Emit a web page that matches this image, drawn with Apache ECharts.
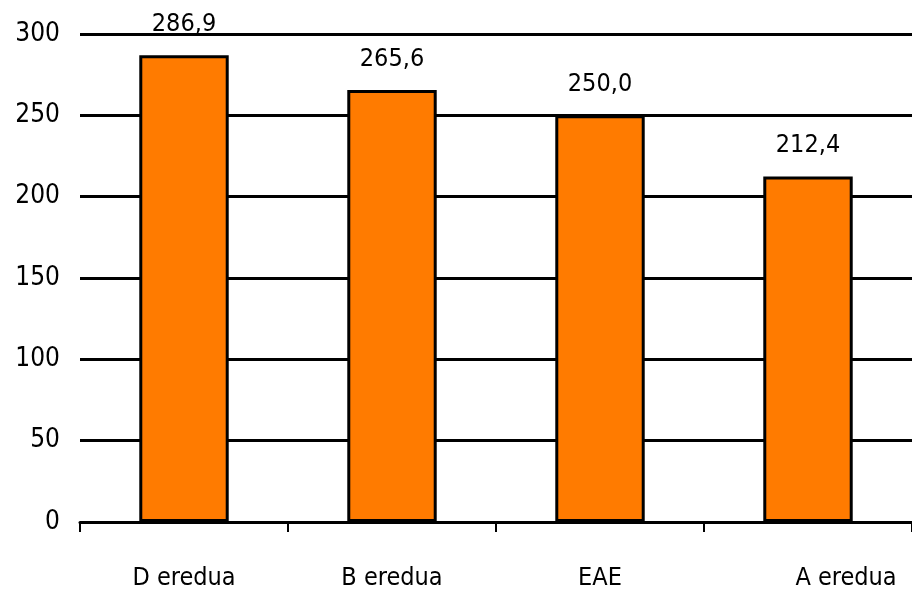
<!DOCTYPE html>
<html>
<head>
<meta charset="utf-8">
<script src="https://cdn.jsdelivr.net/npm/echarts@6/dist/echarts.min.js"></script>
<style>
html, body { margin: 0; padding: 0; background: #fff; }
#chart { width: 912px; height: 595px; }
</style>
</head>
<body>
<div id="chart"></div>
<script>
var categories = ['D eredua', 'B eredua', 'EAE', 'A eredua'];
var values = [286.9, 265.6, 250.0, 212.4];
var yTicks = [0, 50, 100, 150, 200, 250, 300];

var fontFam = '"Liberation Sans Narrow", "DejaVu Sans Condensed", Arial, sans-serif';

var chart = echarts.init(document.getElementById('chart'));

var option = {
	backgroundColor: '#fff',
	animation: false,
	grid: {
		left: 80,
		right: 0,
		top: 34,
		bottom: 73
	},
	xAxis: {
		type: 'category',
		data: categories.map(function (c, i) {
			// last label sits a bit right of its bar in the original
			if (i === 3) return { value: c, textStyle: { padding: [0, 0, 0, 76] } };
			return c;
		}),
		axisLine: { lineStyle: { color: '#000', width: 3 } },
		axisTick: {
			show: true,
			alignWithLabel: false,
			length: 10,
			lineStyle: { color: '#000', width: 2 }
		},
		axisLabel: {
			color: '#000',
			fontSize: 25,
			fontFamily: fontFam,
			margin: 44
		}
	},
	yAxis: {
		type: 'value',
		min: yTicks[0],
		max: yTicks[yTicks.length - 1],
		interval: 50,
		axisLine: { show: false },
		axisTick: { show: false },
		axisLabel: {
			color: '#000',
			fontSize: 26,
			fontFamily: fontFam,
			margin: 20
		},
		splitLine: {
			lineStyle: { color: '#000', width: 3 }
		}
	},
	series: [
		{
			type: 'bar',
			data: values,
			barWidth: '43%',
			itemStyle: {
				color: '#FF7B00',
				borderColor: '#000',
				borderWidth: 3
			},
			label: {
				show: true,
				position: 'top',
				distance: 18,
				color: '#000',
				fontSize: 25,
				fontFamily: fontFam,
				formatter: function (p) {
					return p.value.toFixed(1).replace('.', ',');
				}
			}
		}
	]
};

chart.setOption(option);
</script>
</body>
</html>
